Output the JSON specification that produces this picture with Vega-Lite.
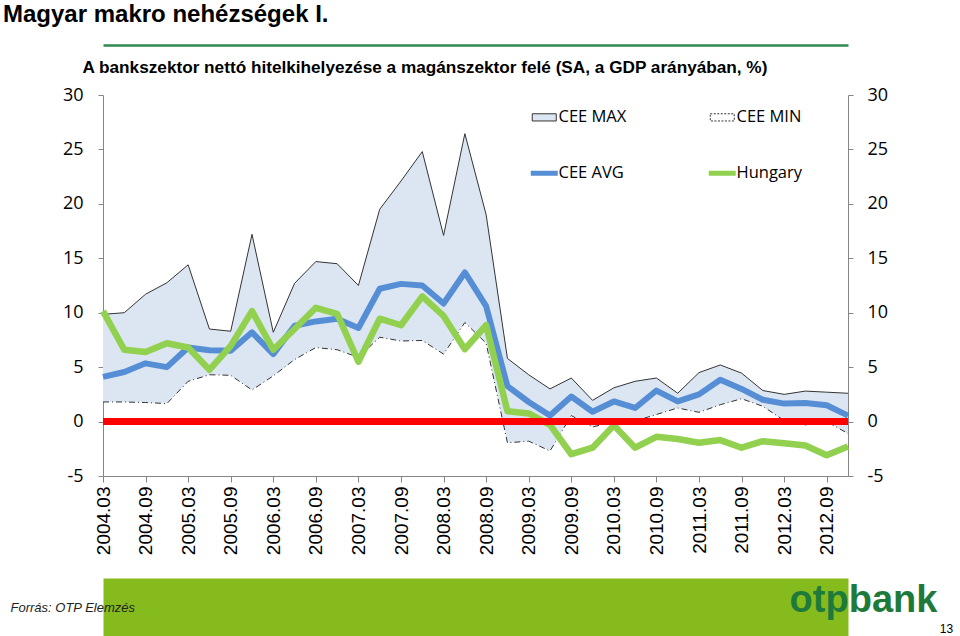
{
  "$schema": "https://vega.github.io/schema/vega-lite/v6.json",
  "width": 745,
  "height": 381,
  "autosize": {"type": "none"},
  "padding": {"left": 103, "top": 95, "right": 112, "bottom": 160},
  "background": "white",
  "title": {
    "text": "Magyar makro nehézségek I.",
    "anchor": "start",
    "frame": "group",
    "dx": -100,
    "dy": 4,
    "offset": 3,
    "baseline": "alphabetic",
    "font": "Liberation Sans",
    "fontSize": 24,
    "fontWeight": "bold",
    "color": "#000000"
  },
  "config": {"view": {"stroke": null}, "axis": {"grid": false}},
  "data": {
    "values": [
      {"q": "2004.03", "max": 9.85, "min": 1.8, "avg": 4.1, "hun": 10.15},
      {"q": "2004.06", "max": 10.0, "min": 1.8, "avg": 4.55, "hun": 6.6},
      {"q": "2004.09", "max": 11.7, "min": 1.75, "avg": 5.35, "hun": 6.4},
      {"q": "2004.12", "max": 12.75, "min": 1.65, "avg": 5.0, "hun": 7.2},
      {"q": "2005.03", "max": 14.4, "min": 3.7, "avg": 6.8, "hun": 6.8},
      {"q": "2005.06", "max": 8.5, "min": 4.3, "avg": 6.55, "hun": 4.75},
      {"q": "2005.09", "max": 8.3, "min": 4.25, "avg": 6.5, "hun": 6.95},
      {"q": "2005.12", "max": 17.2, "min": 2.9, "avg": 8.2, "hun": 10.15},
      {"q": "2006.03", "max": 8.2, "min": 4.2, "avg": 6.2, "hun": 6.6},
      {"q": "2006.06", "max": 12.7, "min": 5.7, "avg": 8.8, "hun": 8.5},
      {"q": "2006.09", "max": 14.7, "min": 6.8, "avg": 9.2, "hun": 10.45},
      {"q": "2006.12", "max": 14.5, "min": 6.6, "avg": 9.45, "hun": 9.9},
      {"q": "2007.03", "max": 12.5, "min": 5.9, "avg": 8.6, "hun": 5.5},
      {"q": "2007.06", "max": 19.5, "min": 7.75, "avg": 12.2, "hun": 9.45},
      {"q": "2007.09", "max": 22.1, "min": 7.4, "avg": 12.65, "hun": 8.85},
      {"q": "2007.12", "max": 24.8, "min": 7.45, "avg": 12.5, "hun": 11.5},
      {"q": "2008.03", "max": 17.1, "min": 6.2, "avg": 10.85, "hun": 9.7},
      {"q": "2008.06", "max": 26.45, "min": 9.1, "avg": 13.7, "hun": 6.65},
      {"q": "2008.09", "max": 19.0, "min": 7.2, "avg": 10.6, "hun": 8.85},
      {"q": "2008.12", "max": 5.8, "min": -1.95, "avg": 3.25, "hun": 0.95},
      {"q": "2009.03", "max": 4.3, "min": -1.8, "avg": 1.8, "hun": 0.75},
      {"q": "2009.06", "max": 3.0, "min": -2.7, "avg": 0.55, "hun": -0.3},
      {"q": "2009.09", "max": 4.0, "min": 0.55, "avg": 2.3, "hun": -3.0},
      {"q": "2009.12", "max": 1.95, "min": -0.5, "avg": 0.9, "hun": -2.4},
      {"q": "2010.03", "max": 3.1, "min": 0.0, "avg": 1.85, "hun": -0.35},
      {"q": "2010.06", "max": 3.7, "min": 0.05, "avg": 1.25, "hun": -2.4},
      {"q": "2010.09", "max": 4.0, "min": 0.65, "avg": 2.85, "hun": -1.4},
      {"q": "2010.12", "max": 2.6, "min": 1.25, "avg": 1.85, "hun": -1.6},
      {"q": "2011.03", "max": 4.5, "min": 0.85, "avg": 2.5, "hun": -1.95},
      {"q": "2011.06", "max": 5.2, "min": 1.55, "avg": 3.85, "hun": -1.7},
      {"q": "2011.09", "max": 4.45, "min": 2.1, "avg": 3.0, "hun": -2.4},
      {"q": "2011.12", "max": 2.85, "min": 1.4, "avg": 2.0, "hun": -1.8},
      {"q": "2012.03", "max": 2.5, "min": 0.1, "avg": 1.65, "hun": -2.0},
      {"q": "2012.06", "max": 2.8, "min": -0.3, "avg": 1.7, "hun": -2.2},
      {"q": "2012.09", "max": 2.7, "min": 0.0, "avg": 1.5, "hun": -3.1},
      {"q": "2012.12", "max": 2.6, "min": -1.1, "avg": 0.55, "hun": -2.3}
    ]
  },
  "resolve": {"axis": {"x": "independent", "y": "independent"}},
  "layer": [
    {
      "mark": {"type": "area", "color": "#DCE6F2", "opacity": 1},
      "encoding": {
        "x": {
          "field": "q", "type": "ordinal", "sort": null,
          "scale": {"type": "point", "padding": 0},
          "axis": {
            "orient": "bottom",
            "values": ["2004.03","2004.09","2005.03","2005.09","2006.03","2006.09","2007.03","2007.09","2008.03","2008.09","2009.03","2009.09","2010.03","2010.09","2011.03","2011.09","2012.03","2012.09"],
            "labelAngle": -90,
            "labelFont": "Liberation Sans",
            "labelFontSize": 19,
            "labelColor": "#000000",
            "labelPadding": 4,
            "tickSize": 6,
            "tickColor": "#868686",
            "domainColor": "#868686",
            "title": null
          }
        },
        "y": {
          "field": "max", "type": "quantitative",
          "scale": {"domain": [-5, 30], "nice": false, "zero": false},
          "axis": {
            "orient": "left",
            "values": [-5, 0, 5, 10, 15, 20, 25, 30],
            "labelExpr": "'' + datum.value",
            "labelFont": "Open Sans",
            "labelFontSize": 18,
            "labelColor": "#000000",
            "labelPadding": 15,
            "tickSize": 5,
            "tickColor": "#868686",
            "domainColor": "#868686",
            "title": null
          }
        },
        "y2": {"field": "min"}
      }
    },
    {
      "mark": {"type": "line", "strokeWidth": 1},
      "encoding": {
        "x": {
          "field": "q", "type": "ordinal", "sort": null,
          "axis": {
            "orient": "top",
            "offset": 50,
            "labels": false,
            "ticks": false,
            "domainColor": "#2F8A4F",
            "domainWidth": 2.5,
            "title": "A bankszektor nettó hitelkihelyezése a magánszektor felé (SA, a GDP arányában, %)",
            "titleX": -21,
            "titleY": 22,
            "titleAlign": "left",
            "titleAnchor": null,
            "titleBaseline": "middle",
            "titleAngle": 0,
            "titleFont": "Liberation Sans",
            "titleFontSize": 17.2,
            "titleFontWeight": "bold",
            "titleColor": "#000000"
          }
        },
        "y": {
          "field": "max", "type": "quantitative",
          "axis": {
            "orient": "right",
            "values": [-5, 0, 5, 10, 15, 20, 25, 30],
            "labelExpr": "'' + datum.value",
            "labelFont": "Open Sans",
            "labelFontSize": 18,
            "labelColor": "#000000",
            "labelPadding": 14,
            "tickSize": 5,
            "tickColor": "#868686",
            "domainColor": "#868686",
            "title": null
          }
        },
        "color": {
          "datum": "CEE MAX", "type": "nominal",
          "scale": {"domain": ["CEE MAX", "CEE AVG", "CEE MIN", "Hungary"], "range": ["#333333", "#558ED5", "#333333", "#92D050"]},
          "legend": {
            "title": null,
            "orient": "none",
            "legendX": 433,
            "legendY": 14,
            "columns": 2,
            "columnPadding": 71,
            "rowPadding": 37,
            "padding": 0,
            "labelFont": "Open Sans",
            "labelFontSize": 16.5,
            "labelColor": "#000000",
            "labelOffset": 6,
            "symbolSize": 729,
            "encode": {
              "symbols": {
                "update": {
                  "shape": {"signal": "datum.value === 'CEE MAX' || datum.value === 'CEE MIN' ? 'M-1,-0.3H1V0.3H-1Z' : 'stroke'"},
                  "size": {"signal": "datum.value === 'CEE MAX' || datum.value === 'CEE MIN' ? 576 : 729"},
                  "fill": {"signal": "datum.value === 'CEE MAX' ? '#DCE6F2' : datum.value === 'CEE MIN' ? '#ffffff' : 'transparent'"},
                  "stroke": {"signal": "datum.value === 'CEE AVG' ? '#558ED5' : datum.value === 'Hungary' ? '#92D050' : '#404040'"},
                  "strokeWidth": {"signal": "datum.value === 'CEE AVG' || datum.value === 'Hungary' ? 5 : 1"},
                  "strokeDash": {"signal": "datum.value === 'CEE MIN' ? [2, 1.5] : []"},
                  "opacity": {"value": 1}
                }
              }
            }
          }
        }
      }
    },
    {
      "mark": {"type": "line", "strokeWidth": 1, "strokeDash": [6, 3, 1, 3]},
      "encoding": {
        "x": {
          "field": "q", "type": "ordinal", "sort": null,
          "axis": {
            "orient": "bottom",
            "offset": 131,
            "labels": false,
            "ticks": false,
            "domainColor": "#86BB1D",
            "domainWidth": 58,
            "title": "Forrás: OTP Elemzés",
            "titleX": -93,
            "titleY": 0,
            "titleAlign": "left",
            "titleAnchor": null,
            "titleBaseline": "middle",
            "titleAngle": 0,
            "titleFont": "Liberation Sans",
            "titleFontStyle": "italic",
            "titleFontWeight": "normal",
            "titleFontSize": 13,
            "titleColor": "#222222"
          }
        },
        "y": {
          "field": "min", "type": "quantitative",
          "axis": {
            "orient": "left",
            "labels": false,
            "ticks": false,
            "domain": false,
            "title": "13",
            "titleX": 843,
            "titleY": 533,
            "titleAngle": 0,
            "titleAlign": "center",
            "titleAnchor": null,
            "titleBaseline": "middle",
            "titleFont": "Liberation Sans",
            "titleFontSize": 12,
            "titleFontWeight": "normal",
            "titleColor": "#000000"
          }
        },
        "color": {"datum": "CEE MIN", "type": "nominal"}
      }
    },
    {
      "mark": {"type": "line", "strokeWidth": 6, "strokeJoin": "round"},
      "encoding": {
        "x": {"field": "q", "type": "ordinal", "sort": null, "axis": null},
        "y": {
          "field": "avg", "type": "quantitative",
          "axis": {
            "orient": "right",
            "labels": false,
            "ticks": false,
            "domain": false,
            "title": "otpbank",
            "titleX": 15,
            "titleY": 505,
            "titleAngle": 0,
            "titleAlign": "center",
            "titleAnchor": null,
            "titleBaseline": "middle",
            "titleFont": "Liberation Sans",
            "titleFontSize": 38,
            "titleFontWeight": "bold",
            "titleColor": "#1E7A3A"
          }
        },
        "color": {"datum": "CEE AVG", "type": "nominal"}
      }
    },
    {
      "mark": {"type": "line", "strokeWidth": 6.5, "strokeJoin": "round"},
      "encoding": {
        "x": {"field": "q", "type": "ordinal", "sort": null, "axis": null},
        "y": {"field": "hun", "type": "quantitative", "axis": null},
        "color": {"datum": "Hungary", "type": "nominal"}
      }
    },
    {
      "mark": {"type": "rule", "color": "#FF0000", "strokeWidth": 6},
      "encoding": {
        "y": {"datum": 0, "type": "quantitative", "axis": null}
      }
    }
  ]
}
